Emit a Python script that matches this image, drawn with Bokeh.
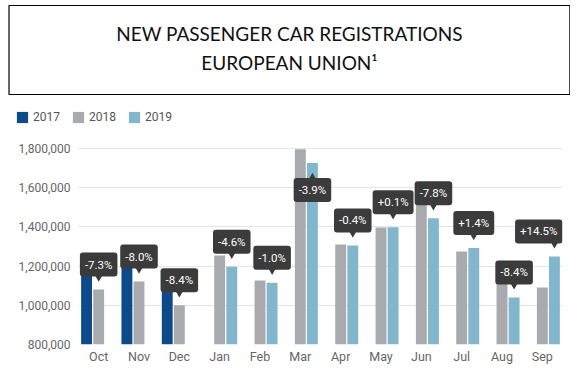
from bokeh.plotting import figure
from bokeh.layouts import column
from bokeh.models import (ColumnDataSource, FactorRange, Range1d, Legend, LegendItem,
                          NumeralTickFormatter, FixedTicker, Label, BoxAnnotation)
from bokeh.transform import dodge
from bokeh.core.properties import value
from bokeh.embed import file_html
from bokeh.resources import INLINE

NaN = float("nan")

# ---- data ----
months = ["Oct", "Nov", "Dec", "Jan", "Feb", "Mar", "Apr", "May", "Jun", "Jul", "Aug", "Sep"]
reg_2017 = [1165000, 1219000, 1092000, NaN, NaN, NaN, NaN, NaN, NaN, NaN, NaN, NaN]
reg_2018 = [1080000, 1121000, 1000000, 1254000, 1126000, 1795000, 1310000, 1397000,
            1565000, 1274000, 1135000, 1091000]
reg_2019 = [NaN, NaN, NaN, 1196000, 1115000, 1725000, 1305000, 1398000,
            1443000, 1292000, 1040000, 1249000]
changes = ["-7.3%", "-8.0%", "-8.4%", "-4.6%", "-1.0%", "-3.9%", "-0.4%", "+0.1%",
           "-7.8%", "+1.4%", "-8.4%", "+14.5%"]
y_ticks = [800000, 1000000, 1200000, 1400000, 1600000, 1800000]
series_names = ["2017", "2018", "2019"]
title_lines = ["NEW PASSENGER CAR REGISTRATIONS", "EUROPEAN UNION\u00b9"]

# ---- style ----
COLORS = ["#0d4a8a", "#a9aaae", "#82b6cd"]
BOX = "#3b3b3b"
FONT = "Roboto"
Y0, Y1 = 800000, 1840000
FRAME_W, FRAME_H = 484, 204
PX = (Y1 - Y0) / FRAME_H
OFF = 0.3
BW = 0.27

src = ColumnDataSource(dict(month=months, y2017=reg_2017, y2018=reg_2018, y2019=reg_2019))
cols = ["y2017", "y2018", "y2019"]

# ---- header figure: title box + legend ----
HEAD_W, HEAD_H = 570, 140
t = figure(x_range=FactorRange(*months), y_range=Range1d(0, 1),
           frame_width=HEAD_W, frame_height=HEAD_H,
           min_border=0, toolbar_location=None, output_backend="svg")
t.frame_align = False
t.axis.visible = False
t.grid.visible = False
t.outline_line_color = None
t.add_layout(BoxAnnotation(left=8.5, right=569.4, bottom=46, top=135,
                           left_units="screen", right_units="screen",
                           bottom_units="screen", top_units="screen",
                           fill_alpha=0, line_color="black", line_width=1.2, line_alpha=1))
for txt, ys in zip(title_lines, [107, 78]):
    t.add_layout(Label(x=289, y=ys, x_units="screen", y_units="screen", text=txt,
                       text_align="center", text_baseline="middle", text_font="Lato",
                       text_font_size="19px", text_color="#111111"))
# hidden series renderers, used only as legend swatches
legend_renderers = []
for col, c in zip(cols, COLORS):
    r = t.rect(x="month", y=col, width=BW, height=1, source=src,
               fill_color=c, line_color=None)
    r.visible = False
    legend_renderers.append(r)
legend = Legend(items=[LegendItem(label=n, renderers=[r]) for n, r in zip(series_names, legend_renderers)],
                orientation="horizontal", location=(15, 16), padding=0, margin=0,
                spacing=11, glyph_width=14, glyph_height=14, label_standoff=4,
                label_height=11, label_width=10,
                border_line_color=None, background_fill_alpha=0, inactive_fill_alpha=0,
                label_text_font=FONT, label_text_font_size="12px", label_text_color="#555555")
t.add_layout(legend, "center")

# ---- chart figure ----
p = figure(x_range=FactorRange(*months), y_range=Range1d(Y0, Y1),
           frame_width=FRAME_W, frame_height=FRAME_H,
           min_border_left=78, min_border_right=8, min_border_top=0, min_border_bottom=33,
           toolbar_location=None, output_backend="svg")
p.frame_align = False
p.outline_line_color = None

for col, off, color in zip(cols, [-OFF, 0, OFF], COLORS):
    p.vbar(x=dodge("month", off, range=p.x_range), top=col, bottom=0, width=BW,
           source=src, fill_color=color, line_color=None)

# change callouts: pointer at the later year's bar
for off, later_is_2019 in [(0, False), (OFF, True)]:
    xs, ys, txts, anchors, xoffs, yoffs, tys, markers = [], [], [], [], [], [], [], []
    for i, m in enumerate(months):
        v19 = reg_2019[i]
        is19 = v19 == v19
        if is19 != later_is_2019:
            continue
        v = v19 if is19 else reg_2018[i]
        above = v + 38 * PX <= Y1
        right = i == len(months) - 1
        xs.append(m)
        ys.append(v)
        txts.append(changes[i])
        if above:
            anchors.append("bottom_right" if right else "bottom_center")
            yoffs.append(-13)
            tys.append(v + 13 * PX)
            markers.append("inverted_triangle")
        else:
            anchors.append("top_right" if right else "top_center")
            yoffs.append(15)
            tys.append(v - 15 * PX)
            markers.append("triangle")
        xoffs.append(8 if right else 0)
    s = ColumnDataSource(dict(month=xs, y=ys, text=txts, anchor=anchors, xo=xoffs, yo=yoffs,
                              ty=tys, marker=markers))
    p.scatter(x=dodge("month", off, range=p.x_range), y="ty", marker="marker", size=9,
              source=s, fill_color=BOX, line_color=None)
    p.text(x=dodge("month", off, range=p.x_range), y="y", text="text", anchor="anchor",
           x_offset="xo", y_offset="yo", source=s, text_color="white",
           text_font=value(FONT), text_font_size="11.5px",
           background_fill_color=BOX, border_radius=3, padding=[5, 5, 5, 5])

p.xgrid.grid_line_color = None
p.ygrid.grid_line_color = "#e4e4e4"
p.ygrid.ticker = FixedTicker(ticks=y_ticks)

p.yaxis.ticker = FixedTicker(ticks=y_ticks)
p.yaxis.formatter = NumeralTickFormatter(format="0,0")
for ax in (p.xaxis[0], p.yaxis[0]):
    ax.axis_line_color = None
    ax.major_tick_line_color = None
    ax.minor_tick_line_color = None
    ax.major_tick_out = 0
    ax.major_tick_in = 0
    ax.minor_tick_out = 0
    ax.major_label_text_font = FONT
    ax.major_label_text_color = "#666666"
p.yaxis.major_label_text_font_size = "12px"
p.xaxis.major_label_text_font_size = "12.5px"
p.yaxis.major_label_standoff = 8
p.xaxis.major_label_standoff = 4

layout = column(t, p, spacing=0)
open("out.html", "w").write(file_html(layout, INLINE))
